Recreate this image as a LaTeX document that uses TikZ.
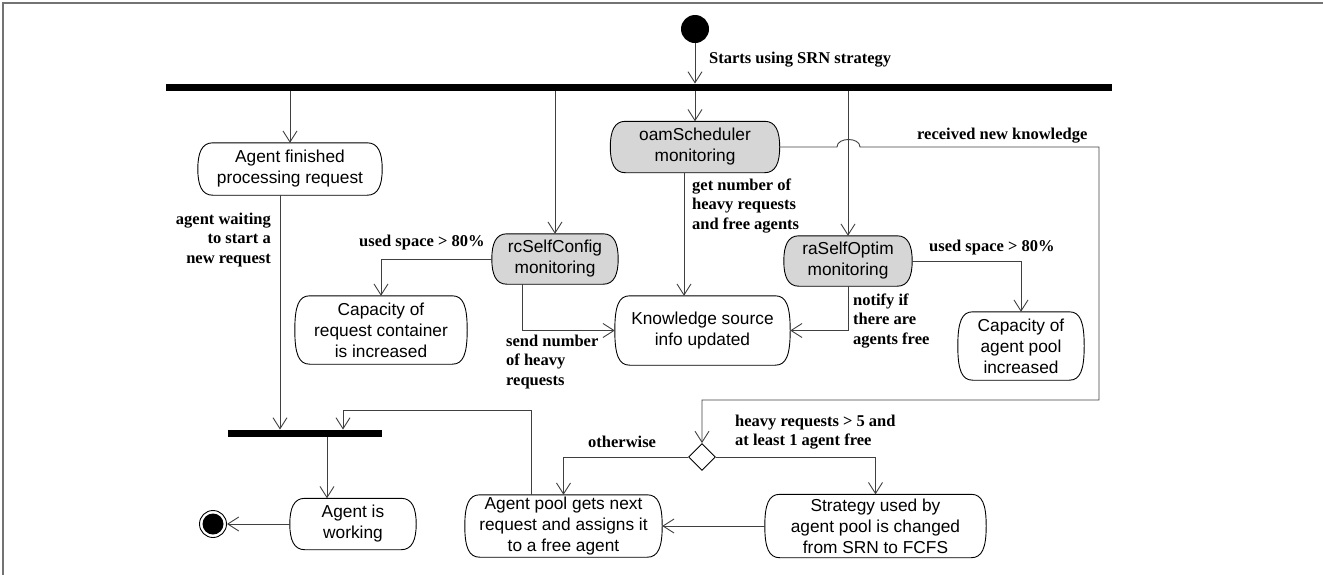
\documentclass[tikz,border=0pt]{standalone}
\usepackage{fontspec}
\setmainfont{Liberation Serif}
\newfontfamily\nodefont{Liberation Sans}
\usetikzlibrary{arrows.meta,shapes.geometric,calc,backgrounds}
\newcommand\actframe[2]{%
  \draw[fill=#1, draw=black, line width=0.9pt]
    ($(#2.north west)+(15,0)$) -- ($(#2.north east)+(-15,0)$)
    .. controls ($(#2.north east)+(-4,0)$) and ($(#2.north east)+(0,10)$) .. (#2.east)
    .. controls ($(#2.south east)+(0,-10)$) and ($(#2.south east)+(-4,0)$) .. ($(#2.south east)+(-15,0)$)
    -- ($(#2.south west)+(15,0)$)
    .. controls ($(#2.south west)+(4,0)$) and ($(#2.south west)+(0,-10)$) .. (#2.west)
    .. controls ($(#2.north west)+(0,10)$) and ($(#2.north west)+(4,0)$) .. cycle;}
\begin{document}
\begin{tikzpicture}[x=1pt,y=-1pt,
  act/.style={rectangle, align=center, inner sep=0pt, font=\nodefont\fontsize{17.3}{21}\selectfont},
  lab/.style={inner sep=0pt, font=\bfseries\fontsize{16.5}{19.5}\selectfont},
  barnode/.style={fill=black, inner sep=0pt, minimum height=7.5pt},
  conn/.style={draw=black!75, line width=0.9pt},
  arr/.style={conn, -{Straight Barb[length=11pt,width=14pt]}},
]
\useasboundingbox (0,0) rectangle (1323,574);
\draw[black!55, line width=1.6pt] (3,580) -- (3,3) -- (1330,3);

% nodes
\node[circle, fill=black, minimum size=28pt, inner sep=0pt] (start) at (695,29) {};
\node[barnode, minimum width=946pt] (topbar) at (639,87.5) {};
\node[act, minimum width=184pt, minimum height=52pt] (fin) at (290,169) {Agent finished\\processing request};
\node[act, minimum width=169pt, minimum height=51pt] (oam) at (695,147) {oamScheduler\\monitoring};
\node[act, minimum width=126pt, minimum height=50pt] (rc) at (555,259) {rcSelfConfig\\monitoring};
\node[act, minimum width=128pt, minimum height=50pt] (ra) at (848,261) {raSelfOptim\\monitoring};
\node[act, minimum width=172pt, minimum height=68pt] (capreq) at (381,330) {Capacity of\\request container\\is increased};
\node[act, minimum width=175pt, minimum height=69pt] (know) at (702.5,330.5) {Knowledge source\\info updated};
\node[act, minimum width=126pt, minimum height=68pt] (cappool) at (1021,346) {Capacity of\\agent pool\\increased};
\node[barnode, minimum width=154pt] (joinbar) at (305,433.5) {};
\node[diamond, draw=black, line width=0.9pt, fill=white, minimum width=27pt, minimum height=27pt, inner sep=0pt, aspect=1] (dec) at (702,457) {};
\node[act, minimum width=126pt, minimum height=51pt] (work) at (353,524) {Agent is\\working};
\node[act, minimum width=197pt, minimum height=62pt] (pool) at (563.5,526) {Agent pool gets next\\request and assigns it\\to a free agent};
\node[act, minimum width=221pt, minimum height=63pt] (strat) at (875.5,526) {Strategy used by\\agent pool is changed\\from SRN to FCFS};
\node[circle, draw=black, line width=0.9pt, fill=white, minimum size=27pt, inner sep=0pt] (stop) at (213,524) {};
\fill (stop.center) circle[radius=10.5pt];

\begin{pgfonlayer}{background}
\actframe{white}{fin}
\actframe{black!16}{oam}
\actframe{black!16}{rc}
\actframe{black!16}{ra}
\actframe{white}{capreq}
\actframe{white}{know}
\actframe{white}{cappool}
\actframe{white}{work}
\actframe{white}{pool}
\actframe{white}{strat}
\end{pgfonlayer}

% coordinates
\coordinate (k1) at (1099,147);
\coordinate (k2) at (1099,400);
\coordinate (j2) at (343,410);

% connectors
\draw[arr] (start) -- (start |- topbar.north);
\draw[arr] (topbar.south -| fin.north) -- (fin.north);
\draw[arr] (topbar.south -| rc.north) -- (rc.north);
\draw[arr] (topbar.south -| oam.north) -- (oam.north);
\draw[arr] (topbar.south -| ra.north) -- (ra.north);
\draw[arr] (oam.east) -- (837,147) .. controls (837,137) and (860,137) .. (860,147) -- (k1) -- (k2) -| (dec.north);
\draw[arr] ([xshift=-10pt]fin.south) -- ([xshift=-10pt]fin.south |- joinbar.north);
\draw[arr] ([xshift=-32.5pt]pool.north) |- (j2) -- (j2 |- joinbar.north);
\draw[arr] ([xshift=-26pt]work.north |- joinbar.south) -- ([xshift=-26pt]work.north);
\draw[arr] (work.west) -- (stop);
\draw[arr] (rc.west) -| (capreq.north);
\draw[arr] ([xshift=-33pt]rc.south) |- (know.west);
\draw[arr] ([xshift=-11pt]oam.south) -- ([xshift=-11pt]oam.south |- know.north);
\draw[arr] (ra.south) |- (know.east);
\draw[arr] (ra.east) -| (cappool.north);
\draw[arr] (dec.west) -| (pool.north);
\draw[arr] (dec.east) -| (strat.north);
\draw[arr] (strat.west) -- (pool.east);

% labels
\node[lab, anchor=west] (l1) at (709,60) {Starts using SRN strategy};
\node[lab, anchor=west] (l2) at (917,136) {received new knowledge};
\node[lab, anchor=east, align=right] (l3) at (271,240) {agent waiting\\to start a\\new request};
\node[lab, anchor=west] (l4) at (359,243) {used space > 80\%};
\node[lab, anchor=west, align=left] (l5) at (692,206) {get number of\\heavy requests\\and free agents};
\node[lab, anchor=west, align=left] (l6) at (506,362) {send number\\of heavy\\requests};
\node[lab, anchor=west, align=left] (l7) at (853,321) {notify if\\there are\\agents free};
\node[lab, anchor=west] (l8) at (929,248) {used space > 80\%};
\node[lab, anchor=west] (l9) at (588,442) {otherwise};
\node[lab, anchor=west, align=left] (l10) at (735,432) {heavy requests > 5 and\\at least 1 agent free};
\end{tikzpicture}
\end{document}
